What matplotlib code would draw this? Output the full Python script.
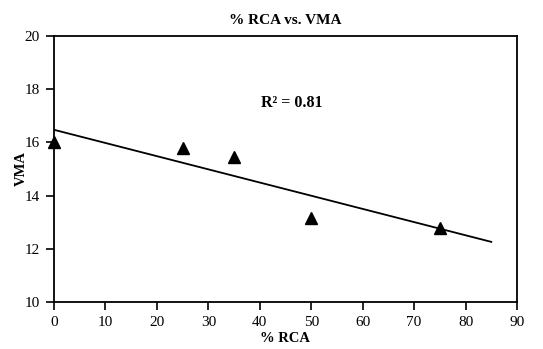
import numpy as np
import matplotlib
matplotlib.use("Agg")
import matplotlib.pyplot as plt

plt.rcParams['font.family'] = ['Liberation Serif', 'DejaVu Serif']

# % RCA content and measured VMA
rca = [0, 25, 35, 50, 75]
vma = [16.0, 15.8, 15.45, 13.15, 12.8]
x_ticks = [0, 10, 20, 30, 40, 50, 60, 70, 80, 90]
y_ticks = [10, 12, 14, 16, 18, 20]

# linear trendline
slope, intercept = np.polyfit(rca, vma, 1)
pred = np.polyval([slope, intercept], rca)
r2 = 1 - np.sum((np.array(vma) - pred) ** 2) / np.sum((np.array(vma) - np.mean(vma)) ** 2)
x_line = np.array([0, 85])

fig = plt.figure(figsize=(5.43, 3.49), dpi=100)
ax = fig.add_axes([54 / 543, 1 - 302 / 349, (517 - 54) / 543, (302 - 36) / 349])

ax.plot(x_line, slope * x_line + intercept, color='black', lw=1.3, zorder=2)
ax.plot(rca, vma, linestyle='none', marker='^', markersize=8, color='black', zorder=3, clip_on=False)

ax.set_xlim(0, 90)
ax.set_ylim(10, 20)
ax.set_xticks(x_ticks)
ax.set_yticks(y_ticks)
ax.tick_params(direction='out', length=6, width=1.2, labelsize=11, pad=4)
for s in ax.spines.values():
    s.set_linewidth(1.3)

ax.set_title('% RCA vs. VMA', fontsize=11, fontweight='bold', pad=9)
ax.set_xlabel('% RCA', fontsize=10.5, fontweight='bold', labelpad=2)
ax.set_ylabel('VMA', fontsize=10.5, fontweight='bold', labelpad=-2)

ax.text(46.3, 17.48, f'R\u00b2 = {r2:.2f}', fontsize=11.5, fontweight='bold',
        ha='center', va='center')

fig.savefig('out.png', dpi=100)
